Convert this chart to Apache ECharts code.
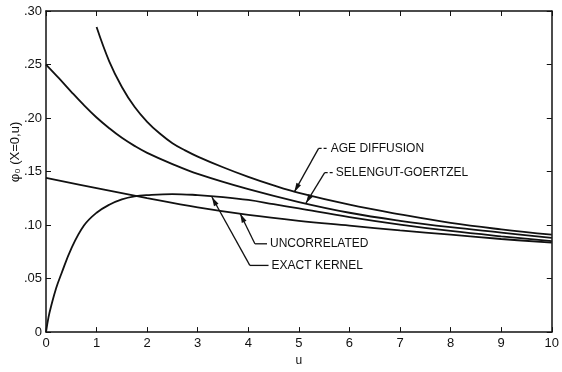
<!DOCTYPE html>
<html>
<head>
<meta charset="utf-8">
<title>phi0(X=0,u)</title>
<script src="https://cdn.jsdelivr.net/npm/echarts@6/dist/echarts.min.js"></script>
<style>
  html, body { margin: 0; padding: 0; background: #fff; }
  #chart { width: 562px; height: 372px; }
</style>
</head>
<body>
<div id="chart"></div>
<script>
// values (u = lethargy)
var uAge = [1, 1.25, 1.5, 1.75, 2, 2.25, 2.5, 2.75, 3, 3.5, 4, 4.5, 5, 6, 7, 8, 9, 10];
var ageDiffusion = [0.285, 0.253, 0.229, 0.2105, 0.1965, 0.1855, 0.1765, 0.1698, 0.164, 0.154, 0.145, 0.137, 0.130, 0.119, 0.110, 0.102, 0.096, 0.091];

var uSG = [0, 0.25, 0.5, 0.75, 1, 1.25, 1.5, 1.75, 2, 2.5, 3, 4, 5, 6, 7, 8, 9, 10];
var selengutGoertzel = [0.250, 0.2375, 0.2245, 0.212, 0.2005, 0.1905, 0.1815, 0.174, 0.1675, 0.157, 0.1478, 0.1335, 0.1215, 0.1115, 0.104, 0.098, 0.093, 0.088];

var uExact = [0, 0.05, 0.1, 0.2, 0.3, 0.5, 0.75, 1, 1.25, 1.5, 1.75, 2, 2.5, 3, 3.5, 4, 4.5, 5, 6, 7, 8, 9, 10];
var exactKernel = [0, 0.014, 0.024, 0.041, 0.054, 0.078, 0.0995, 0.1115, 0.119, 0.124, 0.1268, 0.128, 0.129, 0.128, 0.1262, 0.1235, 0.1195, 0.1155, 0.1075, 0.1005, 0.0945, 0.0895, 0.085];

var uUnc = [0, 1, 2, 3, 4, 5, 6, 7, 8, 9, 10];
var uncorrelated = [0.144, 0.1345, 0.1252, 0.1165, 0.1095, 0.104, 0.0995, 0.095, 0.091, 0.087, 0.0835];

var xTicks = [0, 1, 2, 3, 4, 5, 6, 7, 8, 9, 10];
var yTicks = ['0', '.05', '.10', '.15', '.20', '.25', '.30'];

// curve labels: arrow tip on the curve, bend of the leader, start of the text (data coords)
var notes = [
  { text: 'AGE DIFFUSION', tip: [4.91, 0.131], bend: [5.39, 0.1717], end: [5.57, 0.1717], dash: true },
  { text: 'SELENGUT-GOERTZEL', tip: [5.14, 0.1205], bend: [5.51, 0.149], end: [5.67, 0.149], dash: true },
  { text: 'UNCORRELATED', tip: [3.84, 0.1105], bend: [4.13, 0.0825], end: [4.37, 0.0825], dash: false },
  { text: 'EXACT KERNEL', tip: [3.28, 0.1262], bend: [4.03, 0.0623], end: [4.40, 0.0623], dash: false }
];

function pairs(xs, ys) {
  return xs.map(function (x, i) { return [x, ys[i]]; });
}

var font = '"Liberation Sans", Arial, sans-serif';
var ink = '#111';

function curve(name, xs, ys) {
  return {
    name: name,
    type: 'line',
    data: pairs(xs, ys),
    smooth: 0.4,
    showSymbol: false,
    silent: true,
    lineStyle: { color: ink, width: 1.8 }
  };
}

function frameAxis(extra) {
  var a = {
    type: 'value',
    axisLine: { show: true, onZero: false, lineStyle: { color: ink, width: 1.5 } },
    axisTick: { inside: true, length: 5, lineStyle: { color: ink } },
    axisLabel: { show: false },
    splitLine: { show: false }
  };
  for (var k in extra) a[k] = extra[k];
  return a;
}

var chart = echarts.init(document.getElementById('chart'));

var option = {
  animation: false,
  backgroundColor: '#fff',
  grid: { left: 46, right: 6, top: 11, bottom: 29 },
  xAxis: [
    frameAxis({
      min: 0, max: 10, interval: 1,
      name: 'u', nameLocation: 'middle', nameGap: 22,
      nameTextStyle: { color: ink, fontSize: 12, fontFamily: font },
      axisLabel: { color: ink, fontSize: 13, fontFamily: font, margin: 5,
        formatter: function (v) { return xTicks.indexOf(v) >= 0 ? String(v) : ''; } }
    }),
    frameAxis({ position: 'top', min: 0, max: 10, interval: 1 })
  ],
  yAxis: [
    frameAxis({
      min: 0, max: 0.30, interval: 0.05,
      axisLabel: { color: ink, fontSize: 13, fontFamily: font, margin: 4,
        formatter: function (v) { return yTicks[Math.round(v / 0.05)]; } }
    }),
    frameAxis({ position: 'right', min: 0, max: 0.30, interval: 0.05 })
  ],
  series: [
    curve('AGE DIFFUSION', uAge, ageDiffusion),
    curve('SELENGUT-GOERTZEL', uSG, selengutGoertzel),
    curve('EXACT KERNEL', uExact, exactKernel),
    curve('UNCORRELATED', uUnc, uncorrelated)
  ]
};
chart.setOption(option);

// leaders, arrowheads and texts, placed through the axes
function drawNotes() {
  var els = [];
  var finder = { seriesIndex: 0 };
  notes.forEach(function (n) {
    var tip = chart.convertToPixel(finder, n.tip);
    var bend = chart.convertToPixel(finder, n.bend);
    var end = chart.convertToPixel(finder, n.end);
    els.push({ type: 'line', silent: true,
      shape: { x1: bend[0], y1: bend[1], x2: tip[0], y2: tip[1] },
      style: { stroke: ink, lineWidth: 1.3 } });
    els.push({ type: 'line', silent: true,
      shape: { x1: bend[0], y1: bend[1], x2: end[0], y2: end[1] },
      style: { stroke: ink, lineWidth: 1.3, lineDash: n.dash ? [3, 2] : null } });
    var dx = tip[0] - bend[0], dy = tip[1] - bend[1];
    var len = Math.sqrt(dx * dx + dy * dy);
    var ux = dx / len, uy = dy / len;
    var bx = tip[0] - ux * 9, by = tip[1] - uy * 9;
    els.push({ type: 'polygon', silent: true,
      shape: { points: [tip, [bx - uy * 2.6, by + ux * 2.6], [bx + uy * 2.6, by - ux * 2.6]] },
      style: { fill: ink } });
    els.push({ type: 'text', silent: true, x: end[0] + 3, y: end[1],
      style: { text: n.text, fill: ink, font: '12px ' + font,
        textAlign: 'left', textVerticalAlign: 'middle' } });
  });
  // y axis title
  els.push({ type: 'text', silent: true, x: 15, y: 152, rotation: Math.PI / 2,
    style: { text: 'φ₀ (X=0,u)', fill: ink, font: '13px ' + font,
      textAlign: 'center', textVerticalAlign: 'middle' } });
  chart.setOption({ graphic: els });
}
drawNotes();
</script>
</body>
</html>
